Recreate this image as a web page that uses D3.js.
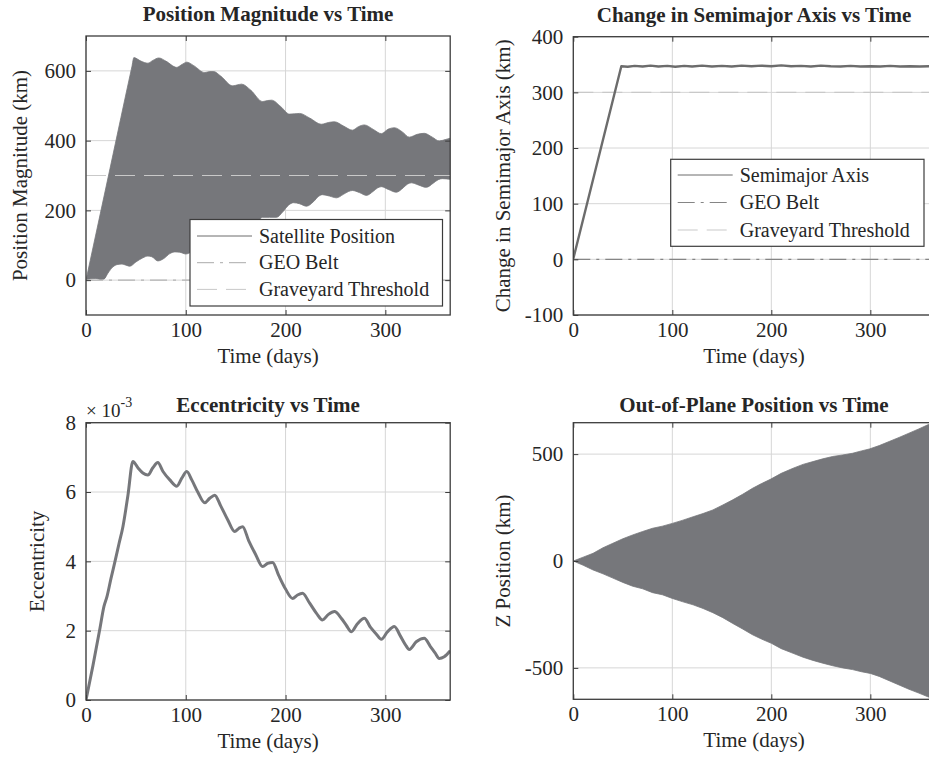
<!DOCTYPE html>
<html>
<head>
<meta charset="utf-8">
<script src="https://cdn.jsdelivr.net/npm/d3@7"></script>
<style>
  body { margin: 0; background: #fff; }
  svg { display: block; }
  svg text { font-family: "Liberation Serif", "Times New Roman", "DejaVu Serif", serif; }
</style>
</head>
<body>
<svg id="fig" width="929" height="759"></svg>
<script>
// ---------- Data ----------
// Position magnitude envelope (km) vs time (days)
const posUpperDays = [0, 24, 46, 48, 55, 62, 67, 73, 80, 91, 96, 101, 108, 119, 124, 128, 135, 147, 152, 156, 165, 177, 182, 186, 195, 204, 209, 214, 224, 236, 243, 249, 258, 267, 273, 279, 288, 296, 303, 309, 317, 324, 332, 339, 347, 354, 360, 365];
const posUpperKm   = [0, 319, 612, 638, 628, 622, 630, 637, 628, 610, 618, 625, 615, 595, 598, 598, 585, 557, 560, 562, 545, 512, 515, 516, 498, 476, 477, 478, 465, 447, 452, 454, 442, 430, 440, 445, 432, 420, 433, 437, 425, 410, 418, 421, 410, 399, 403, 407];
const posLowerDays = [0, 5, 10, 15, 18, 22, 27, 32, 36, 40, 44, 50, 57, 62, 66, 72, 78, 84, 89, 94, 100, 106, 112, 118, 124, 131, 137, 143, 148, 154, 161, 167, 172, 177, 184, 191, 197, 203, 208, 214, 221, 228, 233, 237, 244, 251, 258, 263, 267, 274, 281, 288, 292, 296, 303, 311, 318, 322, 326, 333, 341, 348, 353, 357, 365];
const posLowerKm   = [0, 4, 5, 2, 3, 20, 38, 45, 46, 43, 40, 52, 64, 69, 67, 55, 62, 76, 81, 80, 75, 82, 98, 110, 108, 103, 112, 132, 145, 143, 140, 150, 168, 180, 180, 180, 195, 215, 222, 219, 212, 225, 240, 245, 241, 236, 246, 254, 257, 251, 243, 255, 264, 268, 260, 252, 265, 275, 279, 273, 266, 278, 288, 291, 289];

// Change in semimajor axis (km)
const smaDays = [0, 48.5, 55, 62, 70, 78, 86, 95, 103, 112, 120, 130, 140, 150, 160, 170, 180, 190, 200, 210, 220, 230, 240, 250, 260, 270, 280, 290, 300, 310, 320, 330, 340, 350, 365];
const smaKm   = [1, 347, 346, 347.5, 346.5, 348, 346.5, 347.5, 346, 347.5, 346.5, 348, 346.5, 347.5, 346.5, 348, 347, 348, 347, 348.5, 347, 347.5, 346.5, 348, 347, 346.5, 347.5, 346.5, 347, 346.5, 347.5, 346.5, 347, 346.5, 347];

// Eccentricity (x 10^-3)
const eccDays = [0, 7, 14, 18, 21, 25, 29, 33, 37, 42, 47, 52, 57, 62, 67, 72, 77, 84, 91, 96, 101, 106, 112, 119, 124, 129, 135, 142, 149, 153, 157, 163, 170, 177, 182, 187, 193, 200, 207, 212, 217, 224, 231, 237, 243, 249, 256, 261, 266, 272, 279, 285, 291, 296, 302, 309, 315, 320, 324, 331, 339, 345, 350, 354, 359, 365];
const eccE3   = [0, 1.0, 2.07, 2.7, 2.98, 3.5, 3.99, 4.5, 5.0, 5.9, 6.88, 6.7, 6.55, 6.49, 6.7, 6.85, 6.6, 6.35, 6.17, 6.4, 6.59, 6.35, 6.0, 5.69, 5.82, 5.91, 5.6, 5.2, 4.86, 4.95, 5.0, 4.6, 4.2, 3.85, 3.94, 3.97, 3.6, 3.2, 2.93, 3.03, 3.08, 2.8, 2.5, 2.31, 2.47, 2.55, 2.35, 2.15, 1.97, 2.2, 2.36, 2.1, 1.9, 1.75, 1.96, 2.12, 1.85, 1.6, 1.46, 1.68, 1.78, 1.55, 1.35, 1.2, 1.25, 1.42];

// Out-of-plane (Z) position envelope (km)
const zUpperDays = [0, 10, 20, 30, 40, 50, 60, 70, 80, 90, 100, 110, 121, 131, 141, 151, 161, 171, 181, 190, 199, 210, 222, 232, 242, 252, 262, 272, 282, 291, 299, 309, 319, 329, 339, 349, 358, 365];
const zUpperKm   = [0, 18, 36, 62, 83, 104, 122, 138, 153, 163, 176, 190, 207, 222, 239, 262, 286, 312, 340, 362, 382, 410, 434, 452, 465, 478, 489, 496, 504, 515, 524, 540, 559, 578, 598, 618, 637, 647];
const zLowerDays = [0, 10, 20, 30, 40, 50, 60, 70, 80, 90, 100, 110, 121, 131, 141, 151, 161, 171, 181, 190, 200, 210, 222, 232, 242, 252, 262, 272, 282, 291, 300, 309, 319, 329, 339, 349, 358, 365];
const zLowerKm   = [0, -20, -42, -60, -80, -100, -118, -130, -148, -158, -175, -190, -205, -222, -242, -265, -292, -318, -345, -365, -385, -410, -432, -450, -465, -478, -490, -500, -508, -518, -526, -540, -560, -580, -600, -618, -635, -647];

// Reference levels (km)
const geoBeltKm = 0;
const graveyardKm = 300;

// Axis ticks
const dayTicks = [0, 100, 200, 300];
const posTicks = [0, 200, 400, 600];
const smaTicks = [-100, 0, 100, 200, 300, 400];
const eccTicks = [0, 2, 4, 6, 8];
const zTicks = [-500, 0, 500];

// Legend entries
const posLegend = ["Satellite Position", "GEO Belt", "Graveyard Threshold"];
const smaLegend = ["Semimajor Axis", "GEO Belt", "Graveyard Threshold"];

// ---------- Styling ----------
const SERIF = '"Liberation Serif", "Times New Roman", "DejaVu Serif", serif';
const INK = "#262626";
const AXIS = "#3c3c3c";
const GRID = "#d6d6d6";
const FILL = "#76777b";
const LINE = "#6c6c6c";
const GRAVE = "#c9c9c9";
const DASH = "20,9";
const DASHDOT = "17,6,3,6";

const svg = d3.select("#fig");
const fmt = d => String(d);
let clipId = 0;

function label(sel) {
  return sel.attr("font-family", SERIF).style("font-family", SERIF).attr("fill", INK);
}

function makePanel(o) {
  const x = d3.scaleLinear().domain(o.xDomain).range([o.left, o.right]);
  const y = d3.scaleLinear().domain(o.yDomain).range([o.bottom, o.top]);
  const g = svg.append("g");
  const id = "clip" + (clipId++);
  g.append("clipPath").attr("id", id).append("rect")
    .attr("x", o.left).attr("y", o.top)
    .attr("width", o.right - o.left).attr("height", o.bottom - o.top);

  // grid
  const grid = g.append("g").attr("stroke", GRID).attr("stroke-width", 1);
  o.xTicks.forEach(t => grid.append("line")
    .attr("x1", x(t)).attr("x2", x(t)).attr("y1", o.top).attr("y2", o.bottom));
  o.yTicks.forEach(t => grid.append("line")
    .attr("x1", o.left).attr("x2", o.right).attr("y1", y(t)).attr("y2", y(t)));

  const plot = g.append("g").attr("clip-path", `url(#${id})`);
  return { x, y, g, plot, o };
}

function finishPanel(p, title, xLabel, yLabel, yLabelX, titleGap) {
  const { x, y, g, o } = p;
  // axes with inward ticks on all four sides
  g.append("g").attr("transform", `translate(0,${o.bottom})`)
    .call(d3.axisBottom(x).tickValues(o.xTicks).tickSize(-5).tickPadding(7).tickFormat(fmt));
  g.append("g").attr("transform", `translate(${o.left},0)`)
    .call(d3.axisLeft(y).tickValues(o.yTicks).tickSize(-5).tickPadding(10).tickFormat(fmt));
  g.append("g").attr("transform", `translate(0,${o.top})`)
    .call(d3.axisTop(x).tickValues(o.xTicks).tickSize(-5).tickFormat(""));
  g.append("g").attr("transform", `translate(${o.right},0)`)
    .call(d3.axisRight(y).tickValues(o.yTicks).tickSize(-5).tickFormat(""));
  g.selectAll(".domain").remove();
  g.selectAll(".tick line").attr("stroke", AXIS).attr("stroke-width", 1);
  label(g.selectAll(".tick text")).attr("font-size", 21).style("font-size", "21px");

  g.append("rect").attr("x", o.left).attr("y", o.top)
    .attr("width", o.right - o.left).attr("height", o.bottom - o.top)
    .attr("fill", "none").attr("stroke", AXIS).attr("stroke-width", 1.3);

  const cx = (o.left + o.right) / 2, cy = (o.top + o.bottom) / 2;
  label(g.append("text")).attr("x", cx).attr("y", o.top - titleGap)
    .attr("text-anchor", "middle")
    .style("font-size", "21px").style("font-weight", "bold").text(title);
  label(g.append("text")).attr("x", cx).attr("y", o.bottom + 48)
    .attr("text-anchor", "middle")
    .style("font-size", "21px").text(xLabel);
  label(g.append("text")).attr("transform", `translate(${yLabelX},${cy}) rotate(-90)`)
    .attr("text-anchor", "middle")
    .style("font-size", "21px").text(yLabel);
}

function legend(p, box, labels, styles) {
  const lg = p.g.append("g");
  lg.append("rect").attr("x", box.x).attr("y", box.y).attr("width", box.w).attr("height", box.h)
    .attr("fill", "#fff").attr("stroke", AXIS).attr("stroke-width", 1.2);
  labels.forEach((lab, i) => {
    const yy = box.y + box.row0 + i * box.step;
    lg.append("line").attr("x1", box.x + 7).attr("x2", box.x + 62).attr("y1", yy).attr("y2", yy)
      .attr("stroke", styles[i].color).attr("stroke-width", styles[i].width)
      .attr("stroke-dasharray", styles[i].dash || null);
    label(lg.append("text")).attr("x", box.x + 69).attr("y", yy).attr("dy", "0.33em")
      .style("font-size", "20px").text(lab);
  });
}

function refLine(p, value, color, dash, width) {
  p.plot.append("line")
    .attr("x1", p.o.left).attr("x2", p.o.right)
    .attr("y1", p.y(value)).attr("y2", p.y(value))
    .attr("stroke", color).attr("stroke-width", width).attr("stroke-dasharray", dash);
}

// Closed band: smooth upper edge forward, smooth lower edge backward
function envelopePath(p, upD, upV, loD, loV, curve) {
  const gen = d3.line().curve(curve);
  const up = gen(upD.map((d, i) => [p.x(d), p.y(upV[i])]));
  const lo = gen(loD.map((d, i) => [p.x(d), p.y(loV[i])]).reverse());
  return up + lo.replace(/^M/, "L") + "Z";
}

// ---------- Panel 1: Position magnitude ----------
const p1 = makePanel({ left: 86, right: 450.2, top: 36, bottom: 315,
  xDomain: [0, 365], yDomain: [-100, 700], xTicks: dayTicks, yTicks: posTicks });
p1.plot.append("path")
  .attr("d", envelopePath(p1, posUpperDays, posUpperKm, posLowerDays, posLowerKm, d3.curveMonotoneX))
  .attr("fill", FILL).attr("stroke", FILL).attr("stroke-width", 0.8);
refLine(p1, geoBeltKm, "#b4b4b4", DASHDOT, 1.2);
refLine(p1, graveyardKm, GRAVE, DASH, 1.2);
finishPanel(p1, "Position Magnitude vs Time", "Time (days)", "Position Magnitude (km)", 27, 15);
legend(p1, { x: 190, y: 219.5, w: 252.5, h: 86.5, row0: 16.5, step: 26.7 }, posLegend, [
  { color: LINE, width: 1 }, { color: "#ababab", width: 1, dash: DASHDOT }, { color: GRAVE, width: 1, dash: DASH }]);

// ---------- Panel 2: Semimajor axis ----------
const p2 = makePanel({ left: 573.3, right: 934.7, top: 36.7, bottom: 315,
  xDomain: [0, 365], yDomain: [-100, 400], xTicks: dayTicks, yTicks: smaTicks });
refLine(p2, graveyardKm, GRAVE, DASH, 1.2);
refLine(p2, geoBeltKm, "#858585", DASHDOT, 1.3);
p2.plot.append("path")
  .attr("d", d3.line().x(d => p2.x(d)).y((d, i) => p2.y(smaKm[i])).curve(d3.curveLinear)(smaDays))
  .attr("fill", "none").attr("stroke", LINE).attr("stroke-width", 2.4).attr("stroke-linejoin", "round");
finishPanel(p2, "Change in Semimajor Axis vs Time", "Time (days)", "Change in Semimajor Axis (km)", 510, 15);
legend(p2, { x: 670.7, y: 159.3, w: 253.3, h: 87, row0: 15.7, step: 27.5 }, smaLegend, [
  { color: LINE, width: 1 }, { color: "#858585", width: 1.2, dash: DASHDOT }, { color: GRAVE, width: 1, dash: DASH }]);

// ---------- Panel 3: Eccentricity ----------
const p3 = makePanel({ left: 86, right: 450.2, top: 422.7, bottom: 700,
  xDomain: [0, 365], yDomain: [0, 8], xTicks: dayTicks, yTicks: eccTicks });
p3.plot.append("path")
  .attr("d", d3.line().x(d => p3.x(d)).y((d, i) => p3.y(eccE3[i])).curve(d3.curveMonotoneX)(eccDays))
  .attr("fill", "none").attr("stroke", FILL).attr("stroke-width", 3);
finishPanel(p3, "Eccentricity vs Time", "Time (days)", "Eccentricity", 44, 11);
const expo = label(p3.g.append("text")).attr("x", 86).attr("y", 417).style("font-size", "19px");
expo.append("tspan").text("× 10");
expo.append("tspan").attr("dy", -10).style("font-size", "14px").text("-3");

// ---------- Panel 4: Out-of-plane position ----------
const p4 = makePanel({ left: 573.3, right: 934.7, top: 422.7, bottom: 699.3,
  xDomain: [0, 365], yDomain: [-647, 647], xTicks: dayTicks, yTicks: zTicks });
p4.plot.append("path")
  .attr("d", envelopePath(p4, zUpperDays, zUpperKm, zLowerDays, zLowerKm, d3.curveLinear))
  .attr("fill", FILL).attr("stroke", FILL).attr("stroke-width", 0.8);
finishPanel(p4, "Out-of-Plane Position vs Time", "Time (days)", "Z Position (km)", 510, 11);
</script>
</body>
</html>
